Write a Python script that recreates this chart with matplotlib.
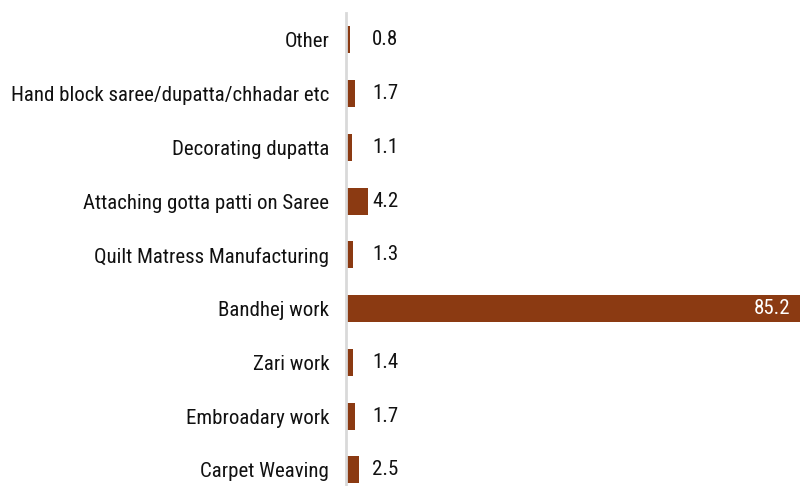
import matplotlib
matplotlib.use("Agg")
import matplotlib.pyplot as plt
from matplotlib import font_manager

# data, top to bottom as in the chart
categories = ["Other", "Hand block saree/dupatta/chhadar etc", "Decorating dupatta",
              "Attaching gotta patti on Saree", "Quilt Matress Manufacturing",
              "Bandhej work", "Zari work", "Embroadary work", "Carpet Weaving"]
values = [0.8, 1.7, 1.1, 4.2, 1.3, 85.2, 1.4, 1.7, 2.5]

names = {f.name for f in font_manager.fontManager.ttflist}
fam = "Roboto Condensed" if "Roboto Condensed" in names else "Roboto"
plt.rcParams["font.family"] = [fam, "DejaVu Sans"]

bar_col = "#8b3a12"
fs = 15

fig = plt.figure(figsize=(8, 4.86), dpi=100)
ax = fig.add_axes([0.4325, 0.0, 0.5675, 0.9733])

ypos = list(range(len(categories)))[::-1]
ax.barh(ypos, values, height=0.5, color=bar_col)

for y, v in zip(ypos, values):
    if v > 20:
        ax.text(v - 1.8, y, f"{v:.1f}", va="center", ha="right",
                color="white", fontsize=fs)
    else:
        ax.text(4.9, y, f"{v:.1f}", va="center", ha="left",
                color="#111111", fontsize=fs)

ax.set_yticks(ypos)
ax.set_yticklabels(categories, fontsize=fs, color="#111111")
ax.tick_params(axis="y", length=0, pad=12)
ax.set_xticks([])
ax.set_xlim(0, 85.2)
ax.set_ylim(-0.3, 8.5)

for s in ["top", "right", "bottom"]:
    ax.spines[s].set_visible(False)
ax.spines["left"].set_color("#d9d9d9")
ax.spines["left"].set_linewidth(2)

fig.savefig("out.png", dpi=100)
